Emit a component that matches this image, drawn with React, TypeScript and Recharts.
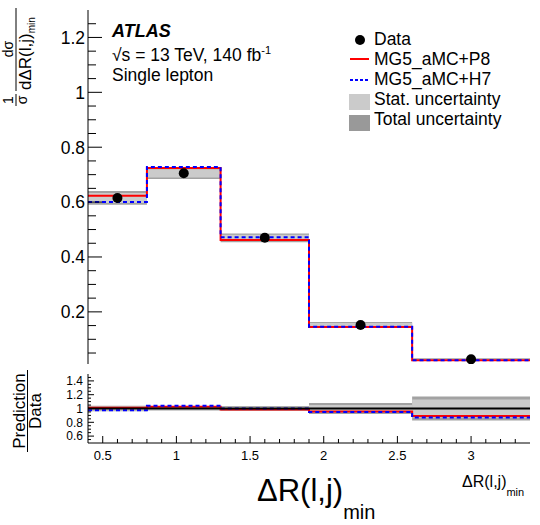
import React from 'react';
import { ComposedChart, Line, Scatter, XAxis, YAxis, ReferenceArea, ReferenceLine } from 'recharts';

// ---------------- data ----------------
const binEdges = [0.4, 0.8, 1.3, 1.9, 2.6, 3.4];
const binCenters = [0.6, 1.05, 1.6, 2.25, 3.0];
const dataValues = [0.615, 0.705, 0.47, 0.152, 0.027];
const mgP8Values = [0.623, 0.724, 0.462, 0.145, 0.024];
const mgH7Values = [0.6, 0.728, 0.472, 0.146, 0.0235];
const statUnc = [0.018, 0.015, 0.011, 0.007, 0.003];
const totalUnc = [0.025, 0.021, 0.016, 0.011, 0.005];
const ratioP8 = [1.01, 1.027, 0.985, 0.955, 0.89];
const ratioH7 = [0.975, 1.04, 1.0, 0.95, 0.87];
const ratioStatUnc = [0.03, 0.02, 0.025, 0.05, 0.13];
const ratioTotalUnc = [0.04, 0.03, 0.035, 0.08, 0.175];

const mainYMajor = [0.2, 0.4, 0.6, 0.8, 1, 1.2];
const mainYLabels = ['0.2', '0.4', '0.6', '0.8', '1', '1.2'];
const ratioYMajor = [0.6, 0.8, 1, 1.2, 1.4];
const ratioYLabels = ['0.6', '0.8', '1', '1.2', '1.4'];
const xMajor = [0.5, 1, 1.5, 2, 2.5, 3];
const xLabels = ['0.5', '1', '1.5', '2', '2.5', '3'];

const X_DOMAIN: [number, number] = [0.4, 3.4];
const MAIN_Y_DOMAIN: [number, number] = [0.01, 1.3];
const RATIO_Y_DOMAIN: [number, number] = [0.5, 1.5];

function buildTicks(start: number, end: number, step: number): number[] {
  const out: number[] = [];
  const n = Math.round((end - start) / step);
  for (let i = 0; i <= n; i++) out.push(Math.round((start + i * step) * 1000) / 1000);
  return out;
}
const xTicks = buildTicks(0.5, 3.3, 0.1);
const mainYTicks = buildTicks(0.05, 1.25, 0.05);
const ratioYTicks = buildTicks(0.55, 1.45, 0.05);

const stepRows = binEdges.map((e, i) => {
  const k = Math.min(i, dataValues.length - 1);
  return { x: e, p8: mgP8Values[k], h7: mgH7Values[k], rp8: ratioP8[k], rh7: ratioH7[k] };
});
const points = binCenters.map((c, i) => ({ x: c, y: dataValues[i] }));

const FONT = 'Liberation Sans, Arial, Helvetica, sans-serif';
const STAT = '#cbcbcb';
const TOTAL = '#a2a2a2';

type Orient = 'left' | 'right' | 'top' | 'bottom';
function tickRenderer(
  orient: Orient,
  majors: number[],
  labels: string[] | null,
  majorLen: number,
  minorLen: number,
  fontSize = 12,
  gap = 3
) {
  return (props: any) => {
    const { x, y, payload } = props;
    const v = Number(payload.value);
    const mi = majors.findIndex((m) => Math.abs(m - v) < 1e-6);
    const isMajor = mi >= 0;
    const len = isMajor ? majorLen : minorLen;
    let x2 = x;
    let y2 = y;
    if (orient === 'left') x2 = x + len;
    else if (orient === 'right') x2 = x - len;
    else if (orient === 'bottom') y2 = y - len;
    else y2 = y + len;
    let label: React.ReactNode = null;
    if (isMajor && labels) {
      if (orient === 'left') {
        label = (
          <text x={x - gap} y={y} dy="0.36em" textAnchor="end" fontSize={fontSize} fontFamily={FONT} fill="#000">
            {labels[mi]}
          </text>
        );
      } else if (orient === 'bottom') {
        label = (
          <text x={x} y={y + gap} textAnchor="middle" fontSize={fontSize} fontFamily={FONT} fill="#000">
            {labels[mi]}
          </text>
        );
      }
    }
    return (
      <g>
        <line x1={x} y1={y} x2={x2} y2={y2} stroke="#000" strokeWidth={1} />
        {label}
      </g>
    );
  };
}

const dot = (props: any) => <circle cx={props.cx} cy={props.cy} r={5} fill="#000" />;

function MainChart() {
  return (
    <ComposedChart
      width={540}
      height={368}
      data={stepRows}
      margin={{ top: 10, right: 10, bottom: 4, left: 0 }}
    >
      <XAxis xAxisId="b" type="number" dataKey="x" domain={X_DOMAIN} allowDataOverflow ticks={xTicks}
        interval={0} height={0} tickSize={0} tickMargin={0} tickLine={false}
        axisLine={{ stroke: '#000' }} tick={tickRenderer('bottom', xMajor, null, 8, 4)} />
      <XAxis xAxisId="t" orientation="top" type="number" domain={X_DOMAIN} allowDataOverflow ticks={xTicks}
        interval={0} height={0} tickSize={0} tickMargin={0} tickLine={false}
        axisLine={{ stroke: '#000' }} tick={tickRenderer('top', xMajor, null, 8, 4)} />
      <YAxis yAxisId="l" type="number" domain={MAIN_Y_DOMAIN} allowDataOverflow ticks={mainYTicks}
        interval={0} width={88} tickSize={0} tickMargin={0} tickLine={false}
        axisLine={{ stroke: '#000' }} tick={tickRenderer('left', mainYMajor, mainYLabels, 14, 8, 17.5, 3)} />
      <YAxis yAxisId="r" orientation="right" type="number" domain={MAIN_Y_DOMAIN} allowDataOverflow ticks={mainYTicks}
        interval={0} width={0} tickSize={0} tickMargin={0} tickLine={false}
        axisLine={{ stroke: '#000' }} tick={tickRenderer('right', mainYMajor, null, 14, 8)} />
      {dataValues.map((v, i) => (
        <ReferenceArea key={'tot' + i} xAxisId="b" yAxisId="l" x1={binEdges[i]} x2={binEdges[i + 1]}
          y1={v - totalUnc[i]} y2={v + totalUnc[i]} fill={TOTAL} fillOpacity={1} stroke="none" />
      ))}
      {dataValues.map((v, i) => (
        <ReferenceArea key={'stat' + i} xAxisId="b" yAxisId="l" x1={binEdges[i]} x2={binEdges[i + 1]}
          y1={v - statUnc[i]} y2={v + statUnc[i]} fill={STAT} fillOpacity={1} stroke="none" />
      ))}
      <Line xAxisId="b" yAxisId="l" type="stepAfter" dataKey="p8" stroke="#ff0000" strokeWidth={2}
        dot={false} isAnimationActive={false} />
      <Line xAxisId="b" yAxisId="l" type="stepAfter" dataKey="h7" stroke="#0000ff" strokeWidth={2}
        strokeDasharray="4 3" dot={false} isAnimationActive={false} />
      <Scatter xAxisId="b" yAxisId="l" data={points} dataKey="y" shape={dot} isAnimationActive={false} />
    </ComposedChart>
  );
}

function RatioChart() {
  return (
    <ComposedChart
      width={540}
      height={157}
      data={stepRows}
      margin={{ top: 6, right: 10, bottom: 0, left: 0 }}
    >
      <XAxis xAxisId="b" type="number" dataKey="x" domain={X_DOMAIN} allowDataOverflow ticks={xTicks}
        interval={0} height={82} tickSize={0} tickMargin={0} tickLine={false}
        axisLine={{ stroke: '#000' }} tick={tickRenderer('bottom', xMajor, xLabels, 7, 4, 13, 17)} />
      <XAxis xAxisId="t" orientation="top" type="number" domain={X_DOMAIN} allowDataOverflow ticks={xTicks}
        interval={0} height={0} tickSize={0} tickMargin={0} tickLine={false}
        axisLine={{ stroke: '#000' }} tick={tickRenderer('top', xMajor, null, 7, 4)} />
      <YAxis yAxisId="l" type="number" domain={RATIO_Y_DOMAIN} allowDataOverflow ticks={ratioYTicks}
        interval={0} width={88} tickSize={0} tickMargin={0} tickLine={false}
        axisLine={{ stroke: '#000' }} tick={tickRenderer('left', ratioYMajor, ratioYLabels, 6, 3, 12, 5)} />
      <YAxis yAxisId="r" orientation="right" type="number" domain={RATIO_Y_DOMAIN} allowDataOverflow ticks={ratioYTicks}
        interval={0} width={0} tickSize={0} tickMargin={0} tickLine={false}
        axisLine={{ stroke: '#000' }} tick={tickRenderer('right', ratioYMajor, null, 6, 3)} />
      {ratioTotalUnc.map((u, i) => (
        <ReferenceArea key={'rtot' + i} xAxisId="b" yAxisId="l" x1={binEdges[i]} x2={binEdges[i + 1]}
          y1={1 - u} y2={1 + u} fill={TOTAL} fillOpacity={1} stroke="none" />
      ))}
      {ratioStatUnc.map((u, i) => (
        <ReferenceArea key={'rstat' + i} xAxisId="b" yAxisId="l" x1={binEdges[i]} x2={binEdges[i + 1]}
          y1={1 - u} y2={1 + u} fill={STAT} fillOpacity={1} stroke="none" />
      ))}
      <Line xAxisId="b" yAxisId="l" type="stepAfter" dataKey="rp8" stroke="#ff0000" strokeWidth={2}
        dot={false} isAnimationActive={false} />
      <Line xAxisId="b" yAxisId="l" type="stepAfter" dataKey="rh7" stroke="#0000ff" strokeWidth={2}
        strokeDasharray="4 3" dot={false} isAnimationActive={false} />
      <ReferenceLine xAxisId="b" yAxisId="l" y={1} stroke="#000" strokeWidth={2} />
    </ComposedChart>
  );
}

function Overlay() {
  const t = { fontFamily: FONT, fill: '#000' } as const;
  return (
    <svg width={540} height={525} style={{ position: 'absolute', left: 0, top: 0, pointerEvents: 'none' }}>
      {/* ATLAS label */}
      <text x={112} y={37} fontSize={18} fontWeight="bold" fontStyle="italic" {...t}>ATLAS</text>
      <text x={112} y={61} fontSize={17.5} {...t}>
        √s = 13 TeV, 140 fb<tspan dy={-7} fontSize={11}>-1</tspan>
      </text>
      <text x={112} y={81} fontSize={17.5} {...t}>Single lepton</text>

      {/* legend */}
      <circle cx={360} cy={40} r={5} fill="#000" />
      <text x={374} y={45} fontSize={17.5} {...t}>Data</text>
      <line x1={350} y1={59} x2={369} y2={59} stroke="#ff0000" strokeWidth={2} />
      <text x={374} y={65} fontSize={17.5} {...t}>MG5_aMC+P8</text>
      <line x1={350} y1={80} x2={369} y2={80} stroke="#0000ff" strokeWidth={2} strokeDasharray="3 2" />
      <text x={374} y={85} fontSize={17.5} {...t}>MG5_aMC+H7</text>
      <rect x={349} y={94} width={21} height={16} fill={STAT} />
      <text x={374} y={105} fontSize={17.5} {...t}>Stat. uncertainty</text>
      <rect x={349} y={115} width={21} height={16} fill="#999999" />
      <text x={374} y={125} fontSize={17.5} {...t}>Total uncertainty</text>

      {/* main y title */}
      <g transform="translate(2,106) rotate(-90)">
        <text x={6} y={11} fontSize={14} textAnchor="middle" {...t}>1</text>
        <line x1={0} y1={14} x2={12} y2={14} stroke="#000" strokeWidth={1} />
        <text x={6} y={25} fontSize={14} textAnchor="middle" {...t}>σ</text>
        <text x={57} y={11} fontSize={14} textAnchor="middle" {...t}>dσ</text>
        <line x1={15} y1={14} x2={98} y2={14} stroke="#000" strokeWidth={1} />
        <text x={16} y={29} fontSize={17} {...t}>
          dΔR(l,j)<tspan dy={4} fontSize={10}>min</tspan>
        </text>
      </g>

      {/* ratio y title */}
      <g transform="translate(0,452) rotate(-90)">
        <text x={41} y={25} fontSize={17} textAnchor="middle" {...t}>Prediction</text>
        <line x1={0} y1={27.5} x2={82} y2={27.5} stroke="#000" strokeWidth={1} />
        <text x={41} y={41} fontSize={17} textAnchor="middle" {...t}>Data</text>
      </g>

      {/* x titles */}
      <text x={257} y={501} fontSize={31} {...t}>
        ΔR(l,j)<tspan dy={18} fontSize={20}>min</tspan>
      </text>
      <text x={462} y={487} fontSize={16} {...t}>
        ΔR(l,j)<tspan dy={9} fontSize={11}>min</tspan>
      </text>
    </svg>
  );
}

export default function App() {
  return (
    <div style={{ position: 'absolute', left: 0, top: 0, width: 540, height: 525, background: '#fff' }}>
      <div style={{ position: 'absolute', left: 0, top: 0 }}>
        <MainChart />
      </div>
      <div style={{ position: 'absolute', left: 0, top: 368 }}>
        <RatioChart />
      </div>
      <Overlay />
    </div>
  );
}
